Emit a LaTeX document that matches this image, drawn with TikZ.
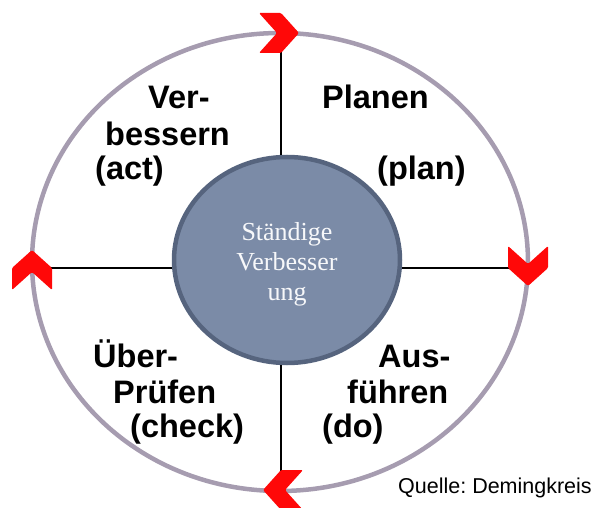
\documentclass[tikz,border=0pt]{standalone}
\usepackage{fontspec}
\setmainfont{Liberation Sans}
\newfontfamily\serifschrift{Liberation Serif}
\usetikzlibrary{calc,positioning,shapes.geometric}
\frenchspacing
\definecolor{kreisgrau}{RGB}{166,156,176}
\definecolor{kernrand}{RGB}{86,100,126}
\definecolor{kernfill}{RGB}{123,139,167}
\definecolor{pfeilrot}{RGB}{255,8,8}

\tikzset{
  phase/.style={anchor=base west,inner sep=0pt,font=\fontsize{32.5}{36}\selectfont\bfseries},
  pics/winkel/.style={code={
    \fill[pfeilrot,rounded corners=1.2pt] (-22,-20) -- (-4,0) -- (-22,20) -- (0,20) -- (18,0) -- (0,-20) -- cycle;
  }}
}

\begin{document}
\begin{tikzpicture}[x=1pt,y=-1pt]
    \useasboundingbox (0,0) rectangle (598,508);
    % outer cycle
    \draw[kreisgrau,line width=4.5pt] (280,262) ellipse [x radius=248,y radius=229];
    \coordinate (oben) at (281,33);
    \coordinate (rechts) at (528,268);
    \coordinate (unten) at (281,490);
    \coordinate (links) at (32,268);
    % centre
    \node[ellipse,draw=kernrand,line width=4.5pt,fill=kernfill,minimum width=226pt,minimum height=206pt,
          inner sep=0pt,
          label={[align=center,text=white!94!kernfill,yshift=-4pt,
                  font=\serifschrift\fontsize{26}{30}\selectfont]center:Ständige\\Verbesser\\ung}] (kern) at (287,260) {};
    \draw[line width=1.4pt] (oben) -- (kern.north -| oben);
    \draw[line width=1.4pt] (unten) -- (kern.south -| unten);
    \draw[line width=1.4pt] (links) -- (kern.west |- links);
    \draw[line width=1.4pt] (rechts) -- (kern.east |- rechts);
    % arrow heads on the cycle
    \pic at (oben) {winkel};
    \pic[rotate=-90] at (rechts) {winkel};
    \pic[rotate=180] at (unten) {winkel};
    \pic[rotate=90] at (links) {winkel};
    % the four phases
    \node[phase] (act1) at (148,109) {Ver-};
    \node[phase] (act2) at (105,146) {bessern};
    \node[phase] (act3) at (95,180) {(act)};
    \node[phase] (plan1) at (322,109) {Planen};
    \node[phase] (plan2) at (377,180) {(plan)};
    \node[phase] (check1) at (93,367) {Über-};
    \node[phase] (check2) at (113,403) {Prüfen};
    \node[phase] (check3) at (130,437) {(check)};
    \node[phase] (do1) at (378,367) {Aus-};
    \node[phase] (do2) at (347,403) {führen};
    \node[phase] (do3) at (322,437) {(do)};
    \node[anchor=base west,inner sep=0pt,font=\fontsize{21.5}{24}\selectfont] (quelle) at (398,493) {Quelle: Demingkreis};
  \end{tikzpicture}
\end{document}
